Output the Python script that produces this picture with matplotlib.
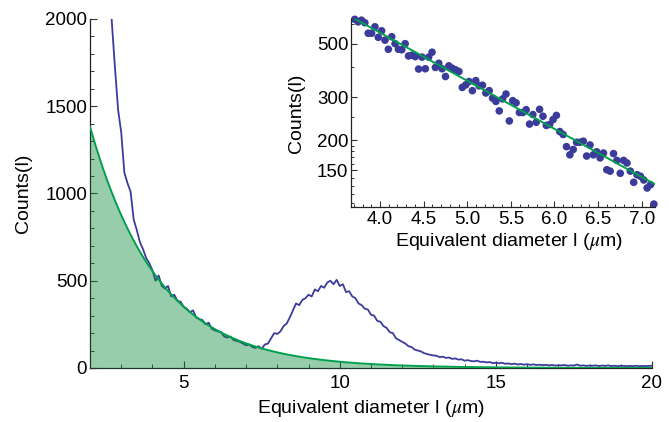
import numpy as np
import matplotlib
matplotlib.use("Agg")
import matplotlib.pyplot as plt
from matplotlib.ticker import MultipleLocator, FixedLocator, NullFormatter

plt.rcParams['font.family'] = ['Liberation Sans', 'DejaVu Sans']
plt.rcParams['mathtext.fontset'] = 'stix'

# ---- data ----
# exponential fit parameters (Counts = A * exp(-l / lam))
fit_amplitude = 3447.0
fit_length = 2.19

# main histogram (blue), bins of 0.1 starting at 2.6
hist_start = 2.6
hist_step = 0.1
hist_counts = [
    2350, 1980, 1720, 1480, 1350, 1120, 1060, 1010, 850, 790,
    720, 680, 630, 600, 560, 500, 530, 470, 455, 470,
    410, 420, 385, 380, 350, 340, 320, 330, 290, 280,
    275, 250, 260, 225, 215, 210, 205, 180, 175, 180,
    160, 155, 150, 140, 130, 135, 120, 115, 125, 110,
    135, 140, 170, 200, 195, 210, 240, 255, 290, 330,
    370, 360, 390, 400, 420, 410, 450, 440, 470, 460,
    490, 500, 480, 505, 470, 480, 435, 440, 410, 400,
    370, 360, 340, 335, 305, 300, 270, 265, 240, 230,
    205, 200, 170, 160, 150, 140, 125, 120, 105, 100,
    95, 85, 80, 75, 72, 70, 62, 65, 58, 60,
    52, 55, 48, 50, 42, 45, 40, 38, 42, 35,
    36, 32, 34, 28, 30, 27, 30, 24, 26, 22,
    25, 20, 23, 19, 22, 18, 21, 17, 19, 16,
    18, 15, 17, 14, 16, 15, 17, 13, 15, 14,
    20, 13, 15, 12, 14, 13, 15, 11, 14, 12,
    15, 11, 13, 10, 13, 12, 10, 12, 11, 13,
    10, 12, 11, 12, 13,
]

# inset points (log scale)
inset_start = 3.71
inset_end = 7.14
inset_counts = [
    630, 615, 625, 610, 552, 552, 587, 531, 565, 517,
    474, 534, 500, 474, 472, 500, 445, 448, 442, 393,
    440, 394, 440, 461, 399, 415, 394, 366, 405, 396,
    390, 384, 330, 338, 349, 320, 352, 335, 337, 313,
    320, 298, 289, 264, 296, 310, 240, 291, 285, 260,
    260, 267, 233, 255, 237, 268, 251, 230, 232, 243,
    253, 217, 211, 188, 174, 183, 196, 196, 198, 172,
    191, 174, 179, 169, 177, 151, 149, 176, 165, 146,
    165, 161, 149, 134, 144, 142, 137, 127, 131, 109,
]

main_xticks = [5, 10, 15, 20]
main_yticks = [0, 500, 1000, 1500, 2000]
inset_xticks = [4.0, 4.5, 5.0, 5.5, 6.0, 6.5, 7.0]
inset_yticks = [150, 200, 300, 500]

BLUE = '#3b3b9c'
GREEN = '#00a04c'
FILL = '#0a8a3a'
TICKC = '#333333'

hist_x = hist_start + hist_step * np.arange(len(hist_counts))
inset_x = np.linspace(inset_start, inset_end, len(inset_counts))

fig = plt.figure(figsize=(6.69, 4.22), dpi=100)
ax = fig.add_axes([90/669, 1-368/422, 562/669, 349/422])

ax.plot(hist_x, hist_counts, color=BLUE, lw=1.3, zorder=2)
fx = np.linspace(2, 20, 400)
fy = fit_amplitude * np.exp(-fx / fit_length)
ax.fill_between(fx, 0, fy, color=FILL, alpha=0.42, lw=0, zorder=3)
ax.plot(fx, fy, color=GREEN, lw=1.4, zorder=4)

ax.set_xlim(2, 20)
ax.set_ylim(0, 2000)
ax.set_xticks(main_xticks)
ax.set_yticks(main_yticks)
ax.xaxis.set_minor_locator(MultipleLocator(1))
ax.yaxis.set_minor_locator(MultipleLocator(100))
for s in ['top', 'right']:
    ax.spines[s].set_visible(False)
for s in ['left', 'bottom']:
    ax.spines[s].set_color('#222222')
    ax.spines[s].set_linewidth(0.9)
ax.tick_params(which='major', direction='in', length=5, width=0.8, color=TICKC, labelsize=13.5)
ax.tick_params(which='minor', direction='in', length=2.8, width=0.7, color=TICKC)
ax.tick_params(axis='y', pad=2)
ax.tick_params(axis='x', pad=5)
ax.set_xlabel(r'Equivalent diameter l ($\mu$m)', fontsize=14)
ax.set_ylabel('Counts(l)', fontsize=14)
ax.xaxis.set_label_coords(0.5, -0.085)
ax.yaxis.set_label_coords(-0.103, 0.5)

# inset
ins = fig.add_axes([351/669, 1-207/422, 304/669, 188/422])
ins.set_yscale('log')
ins.scatter(inset_x, inset_counts, s=30, color=BLUE, edgecolors='none', zorder=2, clip_on=False)
ix = np.linspace(3.67, 7.153, 100)
ins.plot(ix, fit_amplitude * np.exp(-ix / fit_length), color=GREEN, lw=1.4, zorder=3)
ins.set_xlim(3.667, 7.153)
ins.set_ylim(106, 632)
ins.set_xticks(inset_xticks)
ins.set_xticklabels([f'{v:.1f}' for v in inset_xticks])
ins.xaxis.set_minor_locator(MultipleLocator(0.1))
ins.yaxis.set_major_locator(FixedLocator(inset_yticks))
ins.set_yticklabels([str(v) for v in inset_yticks])
ins.yaxis.set_minor_locator(FixedLocator([110, 120, 130, 140, 160, 170, 180, 190, 250, 400, 600]))
ins.yaxis.set_minor_formatter(NullFormatter())
for s in ['top', 'right']:
    ins.spines[s].set_visible(False)
for s in ['left', 'bottom']:
    ins.spines[s].set_color('#222222')
    ins.spines[s].set_linewidth(0.9)
ins.tick_params(which='major', direction='in', length=4, width=0.8, color=TICKC, labelsize=13.5)
ins.tick_params(which='minor', direction='in', length=2.2, width=0.7, color=TICKC)
ins.tick_params(axis='y', pad=2)
ins.tick_params(axis='x', pad=3)
ins.set_xlabel(r'Equivalent diameter l ($\mu$m)', fontsize=14)
ins.set_ylabel('Counts(l)', fontsize=14)
ins.xaxis.set_label_coords(0.52, -0.125)
ins.yaxis.set_label_coords(-0.15, 0.5)

fig.savefig('out.png', dpi=100)
